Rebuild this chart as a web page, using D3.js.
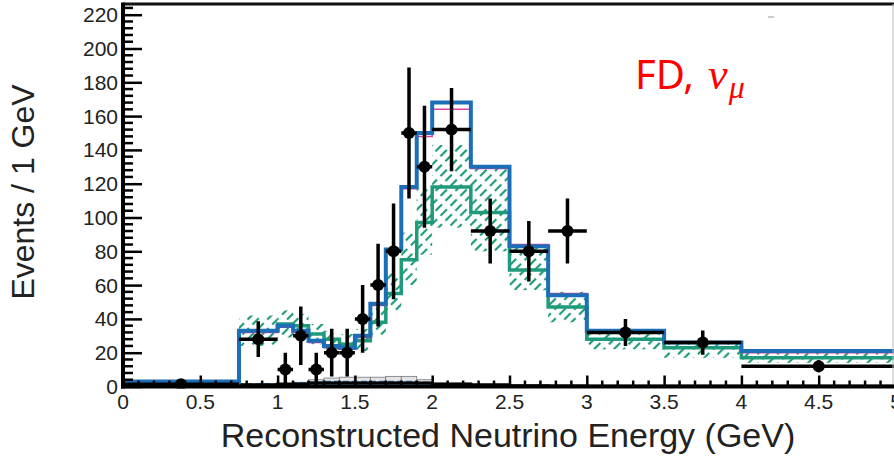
<!DOCTYPE html>
<html>
<head>
<meta charset="utf-8">
<script src="https://cdn.jsdelivr.net/npm/d3@7"></script>
<style>
  html, body { margin: 0; padding: 0; background: #fff; }
  svg { display: block; }
</style>
</head>
<body>
<svg id="chart" width="894" height="456"></svg>
<script>
// ---------- data ----------
const binEdges   = [0, 0.75, 1.0, 1.1, 1.2, 1.3, 1.4, 1.5, 1.6, 1.7, 1.8, 1.9, 2.0, 2.25, 2.5, 2.75, 3.0, 3.5, 4.0, 5.0];
const totalPred  = [3, 33, 36, 33, 27, 24, 23, 30, 49, 81, 118, 150, 168, 130, 83, 54, 33, 26, 21];
const altPred    = [3, 32, 35, 32, 26, 23, 22, 29, 48, 80, 117, 148, 164, 129, 84, 55, 33, 26, 20];
const greenPred  = [2, 33, 37, 36, 31, 28, 25, 27, 38, 55, 75, 97, 118, 103, 69, 47, 28, 23, 17];
const bandLow    = [1, 24, 29, 29, 25, 22, 20, 21, 30, 44, 60, 78, 94, 80, 57, 38, 22, 17, 14];
const bandHigh   = [3, 42, 45, 43, 37, 33, 31, 34, 47, 67, 91, 117, 143, 131, 83, 56, 33, 27, 20];
const bkgBlue    = [0, 1.5, 1.5, 2, 2.5, 3, 3, 3, 3, 3, 3, 2.5, 1.5, 0.5, 0, 0, 0, 0, 0];
const bkgGray    = [0, 0, 0.3, 0.5, 1.5, 2, 2.5, 2.5, 2.5, 3, 3, 1.5, 0.5, 0.3, 0, 0, 0, 0, 0];
const bkgBlack   = [2, 1, 1.5, 1.5, 2, 2, 2, 2, 2, 2, 2, 2, 1.5, 1, 0.5, 0.3, 0.2, 0.1, 0.1];

const dataE   = [0.375, 0.875, 1.05, 1.15, 1.25, 1.35, 1.45, 1.55, 1.65, 1.75, 1.85, 1.95, 2.125, 2.375, 2.625, 2.875, 3.25, 3.75, 4.5];
const dataY   = [1.3, 28, 10, 30, 10, 20, 20, 40, 60, 80, 150, 130, 152, 92, 80, 92, 32, 26, 12];
const dataErr = [1.3, 10.6, 10, 17.3, 10, 14.1, 14.1, 20, 24.5, 28.3, 38.7, 36.1, 24.7, 19.2, 17.9, 19.2, 8, 7.2, 3.5];

const xTicks = [0, 0.5, 1, 1.5, 2, 2.5, 3, 3.5, 4, 4.5, 5];
const yTicks = [0, 20, 40, 60, 80, 100, 120, 140, 160, 180, 200, 220];

const xTitle = "Reconstructed Neutrino Energy (GeV)";
const yTitle = "Events / 1 GeV";

// ---------- layout ----------
const svg = d3.select("#chart");
const x = d3.scaleLinear().domain([0, 5]).range([123, 896]);
const y = d3.scaleLinear().domain([0, 220]).range([386.5, 14.7]);
const yTop = 4;
const FONT = "'Liberation Sans', Arial, Helvetica, sans-serif";

const BLUE = "#1c6fb6", GREEN = "#1f9a7a", PINK = "#e0409f", LBLUE = "#5bb5e6";

const defs = svg.append("defs");
const pat = defs.append("pattern")
  .attr("id", "hatch").attr("patternUnits", "userSpaceOnUse")
  .attr("width", 7).attr("height", 14)
  .attr("patternTransform", "rotate(45)");
pat.append("line").attr("x1", 2).attr("y1", 0).attr("x2", 2).attr("y2", 14)
  .attr("stroke", GREEN).attr("stroke-width", 2.2).attr("stroke-dasharray", "9,5");

defs.append("clipPath").attr("id", "plotclip").append("rect")
  .attr("x", x(0)).attr("y", yTop).attr("width", x(5) - x(0)).attr("height", y(0) - yTop + 2);

const plot = svg.append("g").attr("clip-path", "url(#plotclip)");

const bins = binEdges.slice(0, -1).map((e, i) => ({ x0: e, x1: binEdges[i + 1], i }));

function stepPoints(vals) {
  const pts = [];
  bins.forEach(b => { pts.push([b.x0, vals[b.i]]); pts.push([b.x1, vals[b.i]]); });
  return pts;
}
const stepLine = d3.line().x(d => x(d[0])).y(d => y(d[1]));

// hatch band
plot.append("g").selectAll("rect").data(bins).join("rect")
  .attr("x", d => x(d.x0)).attr("width", d => x(d.x1) - x(d.x0))
  .attr("y", d => y(bandHigh[d.i])).attr("height", d => y(bandLow[d.i]) - y(bandHigh[d.i]))
  .attr("fill", "url(#hatch)");

// small backgrounds
plot.append("g").selectAll("rect").data(bins.filter(b => bkgGray[b.i] > 0)).join("rect")
  .attr("x", d => x(d.x0)).attr("width", d => x(d.x1) - x(d.x0))
  .attr("y", d => y(bkgGray[d.i] + bkgBlue[d.i])).attr("height", d => y(0) - y(bkgGray[d.i] + bkgBlue[d.i]))
  .attr("fill", "#e4e4e4").attr("stroke", "#777").attr("stroke-width", 0.8);
plot.append("g").selectAll("rect").data(bins.filter(b => bkgBlue[b.i] > 0)).join("rect")
  .attr("x", d => x(d.x0)).attr("width", d => x(d.x1) - x(d.x0))
  .attr("y", d => y(bkgBlue[d.i])).attr("height", d => y(0) - y(bkgBlue[d.i]))
  .attr("fill", LBLUE);
plot.append("path").attr("d", stepLine(stepPoints(bkgBlue)))
  .attr("fill", "none").attr("stroke", BLUE).attr("stroke-width", 1.6).attr("stroke-dasharray", "6,3");
plot.append("path").attr("d", stepLine(stepPoints(bkgBlack)))
  .attr("fill", "none").attr("stroke", "#000").attr("stroke-width", 3);

// prediction lines
plot.append("path").attr("d", stepLine(stepPoints(greenPred)))
  .attr("fill", "none").attr("stroke", GREEN).attr("stroke-width", 3.5);
plot.append("path").attr("d", stepLine(stepPoints(altPred)))
  .attr("fill", "none").attr("stroke", PINK).attr("stroke-width", 1.5);
plot.append("path").attr("d", stepLine(stepPoints(totalPred)))
  .attr("fill", "none").attr("stroke", BLUE).attr("stroke-width", 4);

// data points
const pts = dataE.map((e, i) => ({ e, v: dataY[i], err: dataErr[i], b: bins[i] }));
const dg = plot.append("g");
dg.selectAll("line.v").data(pts).join("line").attr("class", "v")
  .attr("x1", d => x(d.e)).attr("x2", d => x(d.e))
  .attr("y1", d => y(d.v + d.err)).attr("y2", d => y(Math.max(0, d.v - d.err)))
  .attr("stroke", "#000").attr("stroke-width", 3.5);
dg.selectAll("line.h").data(pts).join("line").attr("class", "h")
  .attr("x1", d => x(d.b.x0)).attr("x2", d => x(d.b.x1))
  .attr("y1", d => y(d.v)).attr("y2", d => y(d.v))
  .attr("stroke", "#000").attr("stroke-width", 3.5);
dg.selectAll("circle").data(pts).join("circle")
  .attr("cx", d => x(d.e)).attr("cy", d => y(d.v)).attr("r", 6).attr("fill", "#000");

// ---------- frame & axes ----------
svg.append("line").attr("x1", x(0)).attr("x2", 894).attr("y1", yTop).attr("y2", yTop)
  .attr("stroke", "#111").attr("stroke-width", 3);
svg.append("line").attr("x1", 893).attr("x2", 893).attr("y1", yTop).attr("y2", y(0))
  .attr("stroke", "#bbb").attr("stroke-width", 1);

// y axis
const yAxis = d3.axisRight(y).tickValues(yTicks).tickSize(19).tickFormat("");
const gy = svg.append("g").attr("transform", `translate(${x(0)},0)`).call(yAxis);
gy.select(".domain").remove();
gy.selectAll(".tick line").attr("stroke", "#000").attr("stroke-width", 2.5);
const yMinor = d3.range(0, 226, 4).filter(v => v % 20 !== 0);
svg.append("g").selectAll("line").data(yMinor).join("line")
  .attr("x1", x(0)).attr("x2", x(0) + 10).attr("y1", d => y(d)).attr("y2", d => y(d))
  .attr("stroke", "#000").attr("stroke-width", 2.5);
svg.append("line").attr("x1", x(0)).attr("x2", x(0)).attr("y1", yTop - 1.5).attr("y2", y(0) + 2)
  .attr("stroke", "#000").attr("stroke-width", 4);
svg.append("g").selectAll("text").data(yTicks).join("text")
  .attr("x", 118).attr("y", d => y(d)).attr("dy", "0.36em")
  .attr("text-anchor", "end").attr("font-family", FONT).attr("font-size", 21).attr("fill", "#222")
  .text(d => d);

// x axis
const xAxis = d3.axisTop(x).tickValues(xTicks).tickSize(11).tickFormat("");
const gx = svg.append("g").attr("transform", `translate(0,${y(0)})`).call(xAxis);
gx.select(".domain").remove();
gx.selectAll(".tick line").attr("stroke", "#000").attr("stroke-width", 2.5);
const xMinor = d3.range(1, 50).map(k => k / 10).filter(v => Math.abs(v * 2 - Math.round(v * 2)) > 1e-6);
svg.append("g").selectAll("line").data(xMinor).join("line")
  .attr("x1", d => x(d)).attr("x2", d => x(d)).attr("y1", y(0)).attr("y2", y(0) - 6)
  .attr("stroke", "#000").attr("stroke-width", 2.5);
svg.append("line").attr("x1", x(0) - 2).attr("x2", 894).attr("y1", y(0)).attr("y2", y(0))
  .attr("stroke", "#000").attr("stroke-width", 4);
svg.append("g").selectAll("text").data(xTicks).join("text")
  .attr("x", d => x(d)).attr("y", 409)
  .attr("text-anchor", "middle").attr("font-family", FONT).attr("font-size", 21).attr("fill", "#222")
  .text(d => d);

// titles
svg.append("text").attr("x", 508).attr("y", 447).attr("text-anchor", "middle")
  .attr("font-family", FONT).attr("font-size", 34).attr("fill", "#222").text(xTitle);
svg.append("text").attr("transform", "translate(34,192) rotate(-90)").attr("text-anchor", "middle")
  .attr("font-family", FONT).attr("font-size", 32).attr("fill", "#222").text(yTitle);

// annotation
const ann = svg.append("text").attr("x", 635).attr("y", 89).attr("fill", "#ff0000");
ann.append("tspan").attr("font-family", "'Noto Sans', 'Open Sans', sans-serif").attr("font-size", 40).text("FD,");
ann.append("tspan").attr("dx", 14).attr("font-family", "'Liberation Serif', 'DejaVu Serif', serif").attr("font-style", "italic").attr("font-size", 44).text("ν");
ann.append("tspan").attr("dx", 1).attr("font-family", "'Liberation Serif', 'DejaVu Serif', serif").attr("font-style", "italic").attr("font-size", 32).attr("dy", 9).text("μ");

// small stray mark near top
svg.append("line").attr("x1", 768).attr("x2", 774).attr("y1", 17).attr("y2", 17).attr("stroke", "#999").attr("stroke-width", 1);
</script>
</body>
</html>
